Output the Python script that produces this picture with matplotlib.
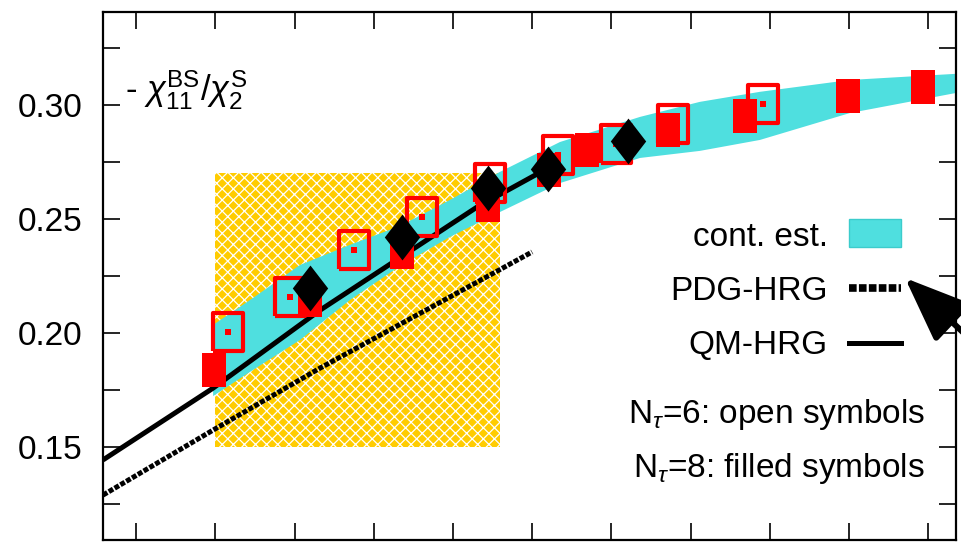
import matplotlib
matplotlib.use('Agg')
import matplotlib.pyplot as plt
from matplotlib.lines import Line2D
from matplotlib.patches import Rectangle

plt.rcParams['font.family'] = ['Liberation Sans', 'DejaVu Sans']
plt.rcParams['mathtext.fontset'] = 'custom'
plt.rcParams['mathtext.rm'] = 'Liberation Sans'
plt.rcParams['mathtext.it'] = 'Liberation Sans:italic'
plt.rcParams['mathtext.bf'] = 'Liberation Sans:bold'
plt.rcParams['hatch.linewidth'] = 0.9

# ---------------- data ----------------
# N_tau = 8 (filled squares)
T_nt8 = [144.92, 150.98, 156.79, 162.22, 166.07, 168.47, 173.58, 178.44, 184.94, 189.67]
r_nt8 = [0.1837, 0.2144, 0.2355, 0.2561, 0.2714, 0.2802, 0.2890, 0.2951, 0.3039, 0.3079]

# N_tau = 6 (open squares)
T_nt6 = [145.80, 149.72, 153.76, 158.05, 162.35, 166.64, 170.30, 173.89, 179.58]
r_nt6 = [0.2004, 0.2157, 0.2364, 0.2508, 0.2657, 0.2780, 0.2828, 0.2916, 0.3004]

# black diamonds
T_dia = [150.98, 156.79, 162.22, 166.01, 171.05]
r_dia = [0.2197, 0.2421, 0.2636, 0.2719, 0.2842]

# continuum estimate band
T_band = [144.86, 147.19, 150.35, 153.50, 156.66, 159.82, 162.97, 166.76, 171.81, 175.59, 179.38, 185.06, 191.76]
band_hi = [0.2035, 0.2144, 0.2298, 0.2386, 0.2469, 0.2583, 0.2706, 0.2837, 0.2947, 0.3013, 0.3057, 0.3109, 0.3136]
band_lo = [0.1723, 0.1829, 0.1969, 0.2144, 0.2293, 0.2421, 0.2530, 0.2657, 0.2767, 0.2798, 0.2846, 0.2964, 0.3052]

# QM-HRG
T_qm = [137.91, 144.86, 151.62, 161.53, 166.01]
r_qm = [0.1443, 0.1758, 0.2100, 0.2552, 0.2723]

# PDG-HRG
T_pdg = [137.91, 144.86, 151.62, 165.0]
r_pdg = [0.1289, 0.1574, 0.1846, 0.2355]

# crossover region
Tc_lo, Tc_hi = 145.0, 163.0
rc_lo, rc_hi = 0.150, 0.270

yticks_major = [0.15, 0.20, 0.25, 0.30]
yticklabels = ['0.15', '0.20', '0.25', '0.30']
yticks_minor = [0.125, 0.175, 0.225, 0.275, 0.325]
xticks = [140, 145, 150, 155, 160, 165, 170, 175, 180, 185, 190]

# ---------------- figure ----------------
W, H = 961, 543
fig = plt.figure(figsize=(W / 100, H / 100), dpi=100)
ax = fig.add_axes([103 / W, 1 - 540 / H, (956 - 103) / W, (540 - 12) / H])
ax.set_xlim(137.91, 191.76)
ax.set_ylim(0.1092, 0.3407)

RED = '#ff0000'
CYAN = '#4fdfdf'
YEL = '#ffcc00'

ax.fill_between([Tc_lo, Tc_hi], [rc_lo, rc_lo], [rc_hi, rc_hi], facecolor=YEL,
                edgecolor='white', linewidth=0, hatch='xxx', zorder=1)
ax.fill_between(T_band, band_lo, band_hi, facecolor=CYAN, edgecolor='none', zorder=2)

ax.plot(T_qm, r_qm, color='black', lw=3.6, solid_capstyle='butt', zorder=3)
ax.plot(T_pdg, r_pdg, color='black', lw=3.6, linestyle=(0, (1.0, 0.35)), zorder=3)

m_fill = [(-0.353, -0.5), (0.353, -0.5), (0.353, 0.5), (-0.353, 0.5), (-0.353, -0.5)]
m_open = [(-0.392, -0.5), (0.392, -0.5), (0.392, 0.5), (-0.392, 0.5), (-0.392, -0.5)]
m_dia = [(0, 0.5), (0.386, 0), (0, -0.5), (-0.386, 0), (0, 0.5)]

ax.plot(T_nt6, r_nt6, linestyle='none', marker=m_open, markersize=27.5,
        markerfacecolor='none', markeredgecolor=RED, markeredgewidth=3.0, zorder=4)
ax.plot(T_nt6, r_nt6, linestyle='none', marker='s', markersize=5,
        markerfacecolor=RED, markeredgewidth=0, zorder=4)
ax.plot(T_nt8, r_nt8, linestyle='none', marker=m_fill, markersize=25,
        markerfacecolor=RED, markeredgewidth=0, zorder=5)
ax.plot(T_dia, r_dia, linestyle='none', marker=m_dia, markersize=33,
        markerfacecolor='black', markeredgewidth=0, zorder=6)

# axes styling
for s in ax.spines.values():
    s.set_linewidth(1.6)
    s.set_zorder(10)
ax.set_xticks(xticks)
ax.set_yticks(yticks_major)
ax.set_yticklabels(yticklabels)
ax.set_yticks(yticks_minor, minor=True)
ax.tick_params(which='both', direction='in', length=12.2, width=1.2,
               top=True, right=True, labelbottom=False, labelsize=24, pad=15)

# y-quantity label
fig.text(125 / W, 1 - 100 / H, r'- $\chi_{11}^{\mathrm{BS}}/\chi_{2}^{\mathrm{S}}$', fontsize=25,
         ha='left', va='baseline')

# legend
fs = 24
fig.text(828 / W, 1 - 246 / H, 'cont. est.', fontsize=fs, ha='right', va='baseline')
fig.text(828 / W, 1 - 300 / H, 'PDG-HRG', fontsize=fs, ha='right', va='baseline')
fig.text(828 / W, 1 - 354 / H, 'QM-HRG', fontsize=fs, ha='right', va='baseline')
fig.patches.append(Rectangle((849 / W, 1 - 247 / H), 52 / W, 28 / H, transform=fig.transFigure,
                             facecolor=CYAN, edgecolor='#3ccccc', lw=1, figure=fig))
fig.lines.append(Line2D([849 / W, 901 / W], [1 - 288 / H, 1 - 288 / H], transform=fig.transFigure,
                        color='black', lw=5.5, linestyle=(0, (1.0, 0.3)), figure=fig))
fig.lines.append(Line2D([849 / W, 901 / W], [1 - 343 / H, 1 - 343 / H], transform=fig.transFigure,
                        color='black', lw=3.6, figure=fig))

fig.text(925 / W, 1 - 423 / H, r'N$_\tau$=6: open symbols', fontsize=fs, ha='right', va='baseline')
fig.text(925 / W, 1 - 477 / H, r'N$_\tau$=8: filled symbols', fontsize=fs, ha='right', va='baseline')

# arrow
ax.annotate('', xy=(905 / W, 1 - 278 / H), xycoords='figure fraction',
            xytext=(1030 / W, 1 - 395 / H), textcoords='figure fraction',
            arrowprops=dict(arrowstyle='-|>,head_length=2.0,head_width=0.8', lw=4.3,
                            color='black', mutation_scale=20, shrinkA=0, shrinkB=0),
            annotation_clip=False)

fig.savefig('out.png', dpi=100)
